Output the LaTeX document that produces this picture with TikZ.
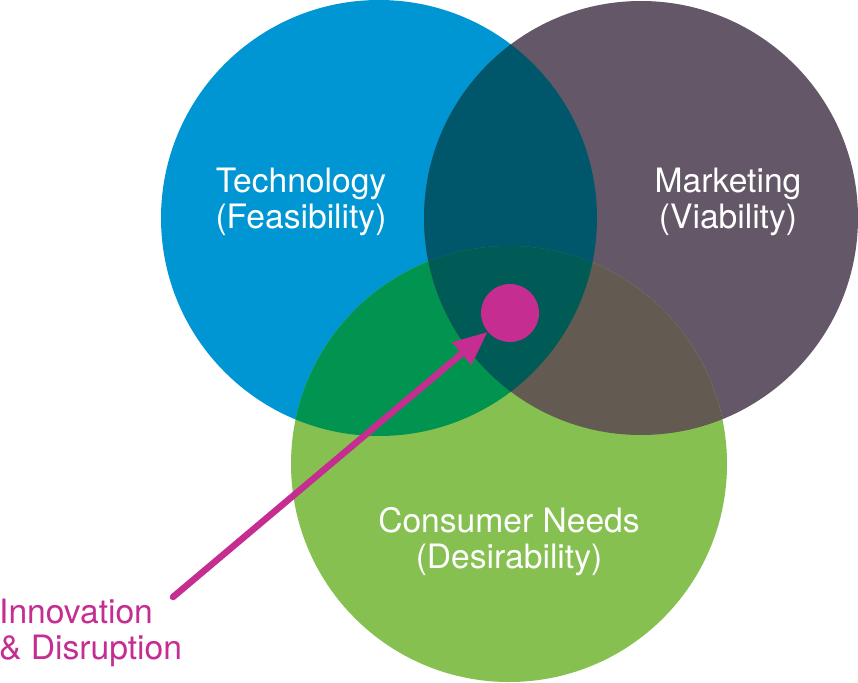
\documentclass[tikz,border=0pt]{standalone}
\usepackage{fontspec}
\setmainfont{TeX Gyre Heros}
\usetikzlibrary{arrows.meta}
\definecolor{techblue}{RGB}{0,150,212}
\definecolor{marketgray}{RGB}{100,88,104}
\definecolor{needgreen}{RGB}{134,192,81}
\definecolor{techmarket}{RGB}{0,87,108}
\definecolor{techneed}{RGB}{0,148,80}
\definecolor{marketneed}{RGB}{99,90,81}
\definecolor{allthree}{RGB}{0,90,85}
\definecolor{innomagenta}{RGB}{197,45,145}
\tikzset{
  label/.style={text=white,align=center,inner sep=0pt,font=\fontsize{33.6}{36}\selectfont},
}
\begin{document}
\begin{tikzpicture}[x=1pt,y=-1pt]
            \useasboundingbox (0,0) rectangle (858,682);
            \def\tech{(379,218) circle[radius=218pt]}
            \def\market{(641,218) circle[radius=217pt]}
            \def\need{(509,464) circle[radius=218pt]}
            \fill[techblue] \tech;
            \fill[marketgray] \market;
            \fill[needgreen] \need;
            \begin{scope}
                \clip \tech;
                \fill[techmarket] \market;
                \fill[techneed] \need;
            \end{scope}
            \begin{scope}
                \clip \market;
                \fill[marketneed] \need;
            \end{scope}
            \begin{scope}
                \clip \tech;
                \clip \market;
                \fill[allthree] \need;
            \end{scope}
            \node[label] (technology) at (301,202) {Technology\\(Feasibility)};
            \node[label] (marketing) at (728,202) {Marketing\\(Viability)};
            \node[label] (consumer) at (509,542) {Consumer Needs\\(Desirability)};
            \node[circle,fill=innomagenta,minimum size=58pt,inner sep=0pt] (dot) at (510,313) {};
            \node[label,text=innomagenta,align=left,anchor=north west] (innovation) at (-1,599) {Innovation\\\& Disruption};
            \coordinate (tail) at (173,597);
            \draw[innomagenta,line width=6.5pt,line cap=round,-{Triangle[length=34pt,width=28pt]}] (tail) -- (dot);
        \end{tikzpicture}
\end{document}
